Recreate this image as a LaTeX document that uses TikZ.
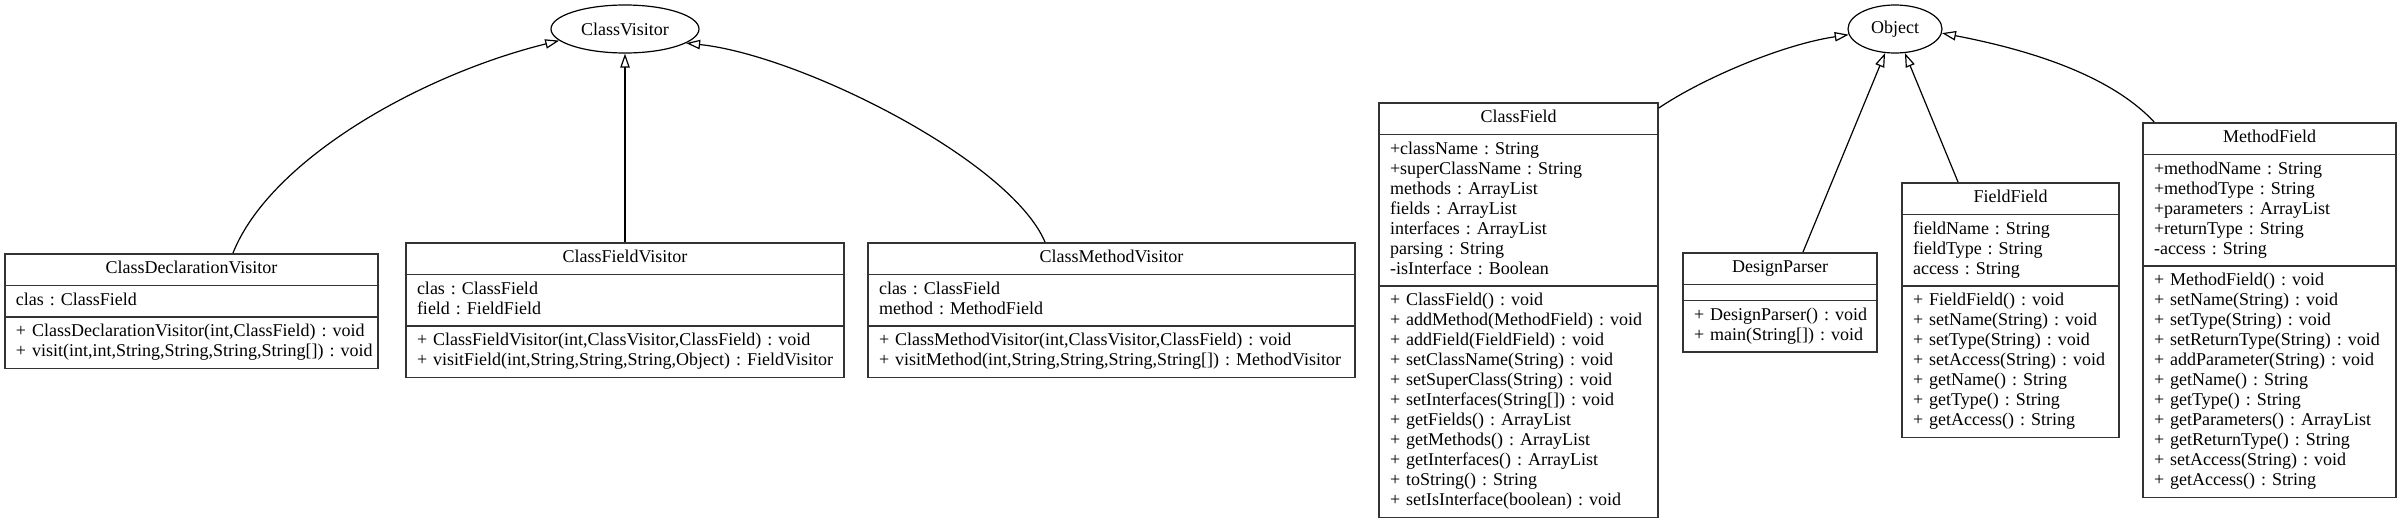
\documentclass[tikz,border=0pt]{standalone}
\usepackage{fontspec}
\setmainfont{Liberation Serif}
\usetikzlibrary{positioning, arrows.meta, shapes.geometric, shapes.multipart}

% one member row per line, no breaking inside a row
\newcommand{\umlrows}[1]{\begin{tabular}{@{}l@{}}#1\end{tabular}}
% centred class name in the top part
\newcommand{\umlname}[1]{\makebox[\linewidth]{\strut #1}}

\begin{document}
\frenchspacing
\begin{tikzpicture}[
        x=0.5pt, y=-0.5pt,
        % Define styles for consistency
        umlclass/.style={rectangle split, rectangle split parts=3, draw=black!80,
            line width=0.8pt, inner xsep=5.5pt, inner ysep=2.5pt, anchor=north,
            font={\fontsize{9}{10}\selectfont}},
        parent/.style={ellipse, draw, line width=0.6pt, inner sep=0pt,
            minimum height=24pt, font={\fontsize{9}{10}\selectfont}},
        extends/.style={-{Triangle[open, length=7pt, width=4.7pt]}, line width=0.6pt}
    ]
        \useasboundingbox (0,0) rectangle (2400,520);

        % --- Parents ---
        \node[parent, minimum width=74pt] (cv) at (625,29) {ClassVisitor};
        \node[parent, minimum width=47pt] (obj) at (1895,29) {Object};

        % --- Visitor classes ---
        \node[umlclass, text width=175.5pt] (cdv) at (191.5,253)
            {\umlname{ClassDeclarationVisitor}
             \nodepart{two}\umlrows{clas : ClassField}
             \nodepart{three}\umlrows{+ ClassDeclarationVisitor(int,ClassField) : void\\
                + visit(int,int,String,String,String,String[]) : void}};

        \node[umlclass, text width=208pt] (cfv) at (625,242)
            {\umlname{ClassFieldVisitor}
             \nodepart{two}\umlrows{clas : ClassField\\ field : FieldField}
             \nodepart{three}\umlrows{+ ClassFieldVisitor(int,ClassVisitor,ClassField) : void\\
                + visitField(int,String,String,String,Object) : FieldVisitor}};

        \node[umlclass, text width=232.5pt] (cmv) at (1111.5,242)
            {\umlname{ClassMethodVisitor}
             \nodepart{two}\umlrows{clas : ClassField\\ method : MethodField}
             \nodepart{three}\umlrows{+ ClassMethodVisitor(int,ClassVisitor,ClassField) : void\\
                + visitMethod(int,String,String,String,String[]) : MethodVisitor}};

        % --- Model classes ---
        \node[umlclass, text width=128.5pt] (cf) at (1518.5,102)
            {\umlname{ClassField}
             \nodepart{two}\umlrows{+className : String\\ +superClassName : String\\
                methods : ArrayList\\ fields : ArrayList\\ interfaces : ArrayList\\
                parsing : String\\ -isInterface : Boolean}
             \nodepart{three}\umlrows{+ ClassField() : void\\ + addMethod(MethodField) : void\\
                + addField(FieldField) : void\\ + setClassName(String) : void\\
                + setSuperClass(String) : void\\ + setInterfaces(String[]) : void\\
                + getFields() : ArrayList\\ + getMethods() : ArrayList\\
                + getInterfaces() : ArrayList\\ + toString() : String\\
                + setIsInterface(boolean) : void}};

        \node[umlclass, text width=86pt] (dp) at (1780,252)
            {\umlname{DesignParser}
             \nodepart{two}\umlrows{}
             \nodepart{three}\umlrows{+ DesignParser() : void\\ + main(String[]) : void}};

        \node[umlclass, text width=97.5pt] (ff) at (2010.5,182)
            {\umlname{FieldField}
             \nodepart{two}\umlrows{fieldName : String\\ fieldType : String\\ access : String}
             \nodepart{three}\umlrows{+ FieldField() : void\\ + setName(String) : void\\
                + setType(String) : void\\ + setAccess(String) : void\\
                + getName() : String\\ + getType() : String\\ + getAccess() : String}};

        \node[umlclass, text width=115.5pt] (mf) at (2269.5,122)
            {\umlname{MethodField}
             \nodepart{two}\umlrows{+methodName : String\\ +methodType : String\\
                +parameters : ArrayList\\ +returnType : String\\ -access : String}
             \nodepart{three}\umlrows{+ MethodField() : void\\ + setName(String) : void\\
                + setType(String) : void\\ + setReturnType(String) : void\\
                + addParameter(String) : void\\ + getName() : String\\
                + getType() : String\\ + getParameters() : ArrayList\\
                + getReturnType() : String\\ + setAccess(String) : void\\
                + getAccess() : String}};

        % --- Generalisation edges ---
        \draw[extends] ([xshift=20.75pt]cdv.north) .. controls (270,160) and (420,75) .. (cv.190);
        \draw[extends] (cfv.north) -- (cv);
        \draw[extends] ([xshift=-33.25pt]cmv.north) .. controls (1010,160) and (800,55) .. (cv.347);

        \draw[extends] ([yshift=-3pt]cf.north east) .. controls (1700,80) and (1780,45) .. (obj.187);
        \draw[extends] ([xshift=11.5pt]dp.north) -- (obj);
        \draw[extends] ([xshift=-26.25pt]ff.north) -- (obj);
        \draw[extends] ([xshift=6pt]mf.north west) .. controls (2110,75) and (2030,50) .. (obj.355);

\end{tikzpicture}
\end{document}
